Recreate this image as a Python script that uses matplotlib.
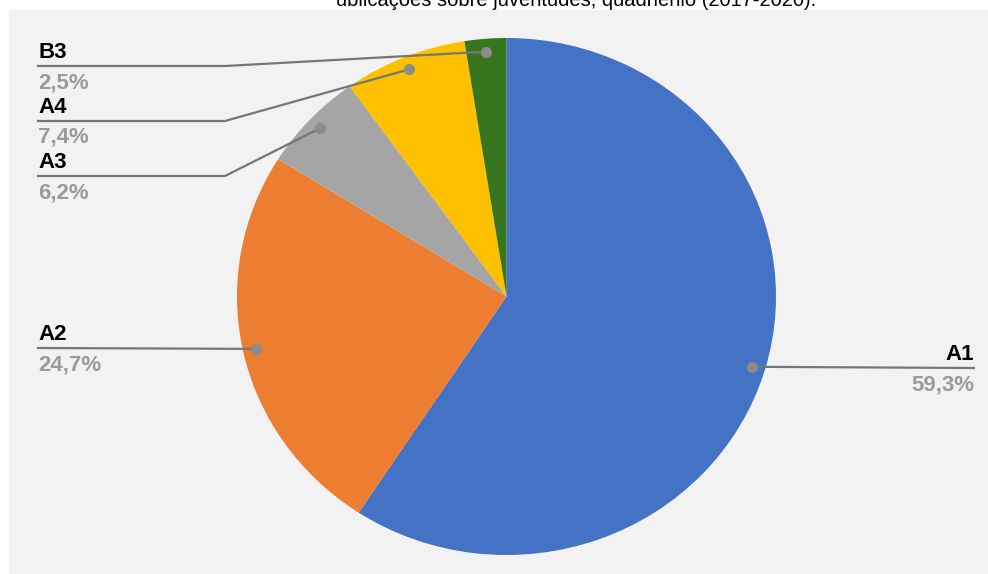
import matplotlib
matplotlib.use("Agg")
import matplotlib.pyplot as plt
import numpy as np

# dados do gráfico
categorias = ["A1", "A2", "A3", "A4", "B3"]
percentuais = [59.3, 24.7, 6.2, 7.4, 2.5]
cores = ["#4472C4", "#ED7D31", "#A5A5A5", "#FFC000", "#37761E"]
titulo = "ublicações sobre juventudes, quadriênio (2017-2020)."

W, H = 988, 574
plt.rcParams['font.family'] = ['Liberation Sans', 'DejaVu Sans']

fig = plt.figure(figsize=(W / 100, H / 100), dpi=100)
fig.patch.set_facecolor("white")
# fundo cinza do gráfico
fig.patches.append(plt.Rectangle((9 / W, 0), 1, 1 - 10 / H, transform=fig.transFigure,
                                 facecolor="#F2F2F2", edgecolor="none", zorder=-5))

# pizza (levemente elíptica, como no original)
px0, px1, py0, py1 = 237, 776, 38, 555
ax = fig.add_axes([px0 / W, (H - py1) / H, (px1 - px0) / W, (py1 - py0) / H], zorder=1)
ax.pie(percentuais, colors=cores, startangle=90, counterclock=False,
       wedgeprops=dict(linewidth=0))
ax.set_aspect("auto")
ax.set_xlim(-1, 1)
ax.set_ylim(-1, 1)
ax.axis("off")

# camada de rótulos em pixels
ov = fig.add_axes([0, 0, 1, 1], zorder=5)
ov.set_xlim(0, W)
ov.set_ylim(H, 0)
ov.axis("off")
ov.patch.set_alpha(0)

# posição do ponto de cada rótulo (meio de cada fatia, 95% do raio)
tot = sum(percentuais)
acum = np.cumsum([0] + percentuais[:-1])
meio = [(a + p / 2) / tot for a, p in zip(acum, percentuais)]
pontos = []
for m in meio:
    ang = np.deg2rad(90 - 360 * m)
    dx, dy = ax.transData.transform((0.95 * np.cos(ang), 0.95 * np.sin(ang)))
    pontos.append((dx, H - dy))

linha_y = {"A1": 368, "A2": 348, "A3": 176, "A4": 121, "B3": 66}
cor_linha = "#767676"

for cat, p, (dx, dy) in zip(categorias, percentuais, pontos):
    ly = linha_y[cat]
    txt = f"{p:.1f}%".replace(".", ",")
    if cat == "A1":
        ov.plot([dx, 974], [dy, ly], color=cor_linha, lw=1.6, zorder=3)
        tx, ha = 974, "right"
    else:
        if abs(dy - ly) > 3:
            xs, ys = [38, 225, dx], [ly, ly, dy]
        else:
            xs, ys = [38, dx], [ly, dy]
        ov.plot(xs, ys, color=cor_linha, lw=1.6, zorder=3)
        tx, ha = 38, "left"
    ov.plot(dx, dy, "o", color="#8C8C8C", ms=7, zorder=4)
    ov.text(tx, ly - 8, cat, ha=ha, va="baseline", fontsize=16,
            fontweight="bold", color="black")
    ov.text(tx, ly + 6, txt, ha=ha, va="top", fontsize=16,
            fontweight="bold", color="#9A9A9A")

ov.text(576, 6, titulo, ha="center", va="baseline", fontsize=14.5, color="black")

fig.savefig("out.png", dpi=100, facecolor=fig.get_facecolor())
